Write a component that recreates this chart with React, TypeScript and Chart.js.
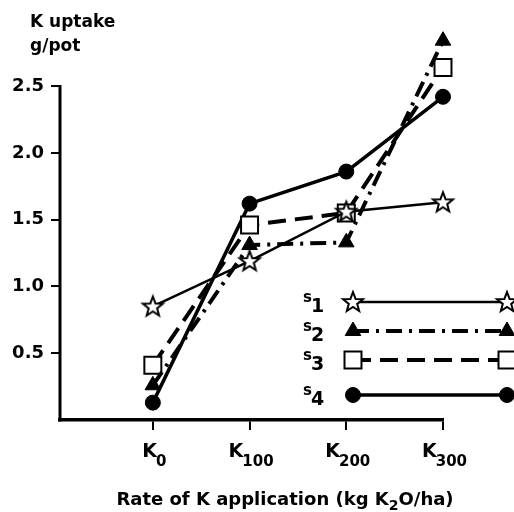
import React, { useEffect, useRef } from "react";
import { Chart, registerables } from "chart.js";
import { drawPoint } from "chart.js/helpers";

Chart.register(...registerables);

// ---- data ----
const xPositions = [0, 1, 2, 3];
const xLabelBase = "K";
const xLabelSubs = ["0", "100", "200", "300"];
const yTicks = [0.5, 1.0, 1.5, 2.0, 2.5];
const yAxisTop = 2.5;
const seriesNames = ["1", "2", "3", "4"];
const s1Values = [0.85, 1.19, 1.56, 1.63];
const s2Values = [0.26, 1.31, 1.33, 2.84];
const s3Values = [0.41, 1.46, 1.55, 2.64];
const s4Values = [0.13, 1.62, 1.86, 2.42];
const yTitleLines = ["K uptake", "g/pot"];
const xTitleParts = ["Rate of K application (kg K", "2", "O/ha)"];

const FONT = "'DejaVu Sans'";

function makeStar(): HTMLCanvasElement {
  const c = document.createElement("canvas");
  c.width = 26;
  c.height = 26;
  const ctx = c.getContext("2d")!;
  const cx = 13, cy = 13.5, ro = 10.5, ri = 4.4;
  ctx.beginPath();
  for (let i = 0; i < 10; i++) {
    const r = i % 2 === 0 ? ro : ri;
    const a = -Math.PI / 2 + (i * Math.PI) / 5;
    const px = cx + r * Math.cos(a);
    const py = cy + r * Math.sin(a);
    if (i === 0) ctx.moveTo(px, py);
    else ctx.lineTo(px, py);
  }
  ctx.closePath();
  ctx.fillStyle = "#fff";
  ctx.fill();
  ctx.lineWidth = 2;
  ctx.strokeStyle = "#000";
  ctx.lineJoin = "miter";
  ctx.stroke();
  return c;
}

export default function App() {
  const ref = useRef<HTMLCanvasElement | null>(null);

  useEffect(() => {
    const canvas = ref.current!;
    const star = makeStar();

    const toPts = (vals: number[]) => vals.map((v, i) => ({ x: xPositions[i], y: v }));

    const datasets: any[] = [
      {
        label: "s1",
        data: toPts(s1Values),
        borderColor: "#000",
        borderWidth: 2.5,
        pointStyle: star,
        pointRadius: 10,
        backgroundColor: "#fff",
        pointBorderColor: "#000",
        pointBackgroundColor: "#fff",
        borderDash: [],
      },
      {
        label: "s2",
        data: toPts(s2Values),
        borderColor: "#000",
        borderWidth: 4,
        borderDash: [16, 7, 3, 7],
        pointStyle: "triangle",
        pointRadius: 9,
        pointBorderWidth: 1,
        pointBorderColor: "#000",
        pointBackgroundColor: "#000",
      },
      {
        label: "s3",
        data: toPts(s3Values),
        borderColor: "#000",
        borderWidth: 4,
        borderDash: [18, 9],
        pointStyle: "rect",
        pointRadius: 12,
        pointBorderWidth: 2,
        pointBorderColor: "#000",
        pointBackgroundColor: "#fff",
      },
      {
        label: "s4",
        data: toPts(s4Values),
        borderColor: "#000",
        borderWidth: 3.5,
        borderDash: [],
        pointStyle: "circle",
        pointRadius: 7.5,
        pointBorderWidth: 1,
        pointBorderColor: "#000",
        pointBackgroundColor: "#000",
      },
    ].map((d) => ({ ...d, clip: false, tension: 0, fill: false, pointHoverRadius: d.pointRadius }));

    const axisPlugin = {
      id: "axisPlugin",
      beforeDatasetsDraw(chart: any) {
        const ctx = chart.ctx as CanvasRenderingContext2D;
        const ys = chart.scales.y;
        const xs = chart.scales.x;
        ctx.save();
        ctx.strokeStyle = "#000";
        ctx.lineWidth = 3;
        ctx.beginPath();
        const ax = xs.left;
        ctx.moveTo(ax, ys.getPixelForValue(0) + 1.5);
        ctx.lineTo(ax, ys.getPixelForValue(yAxisTop) - 1);
        ctx.stroke();
        ctx.restore();
      },
    };

    const textPlugin = {
      id: "textPlugin",
      afterDraw(chart: any) {
        const ctx = chart.ctx as CanvasRenderingContext2D;
        const xs = chart.scales.x;
        ctx.save();
        ctx.fillStyle = "#000";
        ctx.textBaseline = "alphabetic";
        // y title
        ctx.font = `bold 17px ${FONT}`;
        ctx.textAlign = "left";
        ctx.fillText(yTitleLines[0], 30, 27);
        ctx.fillText(yTitleLines[1], 30, 51);
        // x tick labels with subscripts
        xPositions.forEach((v, i) => {
          const px = xs.getPixelForValue(v);
          ctx.font = `bold 19px ${FONT}`;
          const wK = ctx.measureText(xLabelBase).width;
          ctx.font = `bold 15px ${FONT}`;
          const wS = ctx.measureText(xLabelSubs[i]).width;
          const left = px - (wK + wS) / 2 + 2;
          ctx.font = `bold 19px ${FONT}`;
          ctx.fillText(xLabelBase, left, 457);
          ctx.font = `bold 15px ${FONT}`;
          ctx.fillText(xLabelSubs[i], left + wK - 1, 466);
        });
        // x title
        ctx.font = `bold 18px ${FONT}`;
        const w0 = ctx.measureText(xTitleParts[0]).width;
        ctx.font = `bold 14px ${FONT}`;
        const w1 = ctx.measureText(xTitleParts[1]).width;
        ctx.font = `bold 18px ${FONT}`;
        const w2 = ctx.measureText(xTitleParts[2]).width;
        const total = w0 + w1 + w2;
        let tx = 285 - total / 2;
        ctx.fillText(xTitleParts[0], tx, 505);
        tx += w0;
        ctx.font = `bold 14px ${FONT}`;
        ctx.fillText(xTitleParts[1], tx, 510);
        tx += w1;
        ctx.font = `bold 18px ${FONT}`;
        ctx.fillText(xTitleParts[2], tx, 505);

        // legend
        const rows = [302, 331, 360, 395];
        const x1 = 353, x2 = 507;
        chart.data.datasets.forEach((ds: any, i: number) => {
          const y = rows[i];
          ctx.save();
          ctx.strokeStyle = "#000";
          ctx.lineWidth = ds.borderWidth;
          ctx.setLineDash(ds.borderDash || []);
          ctx.beginPath();
          ctx.moveTo(x1, y);
          ctx.lineTo(x2, y);
          ctx.stroke();
          ctx.restore();
          [x1, x2].forEach((mx) => {
            ctx.save();
            ctx.fillStyle = ds.pointBackgroundColor || "#fff";
            ctx.strokeStyle = ds.pointBorderColor || "#000";
            ctx.lineWidth = ds.pointBorderWidth || 1;
            ctx.setLineDash([]);
            drawPoint(ctx, { pointStyle: ds.pointStyle, radius: ds.pointRadius, rotation: 0, borderWidth: ds.pointBorderWidth || 1 } as any, mx, y);
            ctx.restore();
          });
          ctx.fillStyle = "#000";
          ctx.textAlign = "left";
          ctx.font = `bold 15px ${FONT}`;
          ctx.fillText("s", 303, y);
          ctx.font = `bold 19px ${FONT}`;
          ctx.fillText(seriesNames[i], 311, y + 10);
        });
        ctx.restore();
      },
    };

    const chart = new Chart(canvas, {
      type: "line",
      data: { datasets },
      options: {
        animation: false,
        responsive: false,
        events: [],
        layout: { padding: { top: 26, right: 71, left: 0, bottom: 0 } },
        plugins: { legend: { display: false }, tooltip: { enabled: false }, title: { display: false } },
        scales: {
          x: {
            type: "linear",
            min: -0.96,
            max: 3,
            afterBuildTicks: (s: any) => {
              s.ticks = xPositions.map((v) => ({ value: v }));
            },
            afterFit: (s: any) => {
              s.height = 92;
            },
            ticks: { display: false },
            grid: { drawOnChartArea: false, drawTicks: true, tickLength: 10, color: "#000", lineWidth: 2 },
            border: { display: true, color: "#000", width: 3.5 },
          },
          y: {
            type: "linear",
            min: 0,
            max: 2.95,
            afterBuildTicks: (s: any) => {
              s.ticks = yTicks.map((v) => ({ value: v }));
            },
            afterFit: (s: any) => {
              s.width = 60;
            },
            ticks: {
              color: "#000",
              padding: 7,
              font: { family: FONT, size: 18, weight: "bold" },
              callback: (v: any) => Number(v).toFixed(1),
            },
            grid: { drawOnChartArea: false, drawTicks: true, tickLength: 9, color: "#000", lineWidth: 2 },
            border: { display: false },
          },
        },
      },
      plugins: [axisPlugin, textPlugin],
    } as any);

    return () => chart.destroy();
  }, []);

  return (
    <div style={{ position: "absolute", left: 0, top: 0, width: 514, height: 512, background: "#fff" }}>
      <canvas ref={ref} width={514} height={512} style={{ display: "block" }} />
    </div>
  );
}
